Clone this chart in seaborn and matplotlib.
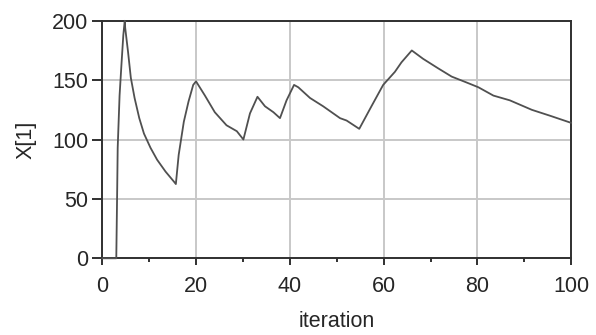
import matplotlib
matplotlib.use("Agg")
import matplotlib.pyplot as plt
import seaborn as sns
import pandas as pd
from matplotlib.ticker import MultipleLocator

iteration = [0, 3.0, 3.2, 3.3, 3.7, 4.1, 4.5, 4.8, 4.9, 5.5, 6.1, 6.9, 7.9, 8.9, 10.3,
             11.7, 13.5, 15.3, 15.7, 16.3, 17.4, 18.4, 19.4, 20.0, 21.9, 24.0, 26.5,
             28.7, 30.1, 31.5, 33.1, 34.7, 36.5, 37.9, 39.3, 40.9, 41.8, 44.3, 47.1,
             50.7, 52.1, 54.8, 57.4, 59.9, 62.4, 63.8, 66.0, 68.4, 71.6, 74.5, 77.7,
             80.2, 83.4, 86.9, 91.6, 95.5, 100]
x1 = [0, 0, 60, 93, 137, 163, 188, 200, 194, 174, 152, 135, 118, 105, 93,
      83, 73, 64.5, 62.5, 87, 115, 132, 146, 149, 137, 123, 112,
      107, 100, 122, 136, 128, 123, 118, 133, 146, 144, 135, 128,
      118, 116, 109, 128, 146, 157, 165, 175, 168, 160, 153, 148,
      144, 137, 133, 125, 120, 114]

xticks = [0, 20, 40, 60, 80, 100]
yticks = [0, 50, 100, 150, 200]

df = pd.DataFrame({"iteration": iteration, "X[1]": x1})

sns.set_style("white")
plt.rcParams["font.family"] = ["Liberation Sans", "DejaVu Sans"]

fig = plt.figure(figsize=(5.96, 3.35), dpi=100)
ax = fig.add_axes([0.1715, 0.229, 0.787, 0.709])

sns.lineplot(data=df, x="iteration", y="X[1]", ax=ax, sort=False,
             color="#505050", linewidth=1.3, zorder=5, clip_on=False)

ax.set_xlim(0, 100)
ax.set_ylim(0, 200)
ax.set_xticks(xticks)
ax.set_yticks(yticks)
ax.xaxis.set_minor_locator(MultipleLocator(10))
ax.grid(True, which="major", color="#c8c8c8", linewidth=1.4, zorder=0)
ax.set_axisbelow(True)

for s in ax.spines.values():
    s.set_visible(True)
    s.set_color("#303030")
    s.set_linewidth(1.4)

ax.tick_params(axis="y", which="major", direction="out", length=7, width=1.4,
               color="#303030", labelsize=15.5, pad=3, left=True)
ax.tick_params(axis="x", which="major", direction="out", length=5, width=1.4,
               color="#303030", labelsize=15.5, pad=8, bottom=True)
ax.tick_params(axis="x", which="minor", direction="out", length=3, width=1.4,
               color="#303030", bottom=True)

ax.set_xlabel("iteration", fontsize=15.5, labelpad=10)
ax.set_ylabel("X[1]", fontsize=15.5, labelpad=11)

fig.savefig("out.png", dpi=100, facecolor="white")
